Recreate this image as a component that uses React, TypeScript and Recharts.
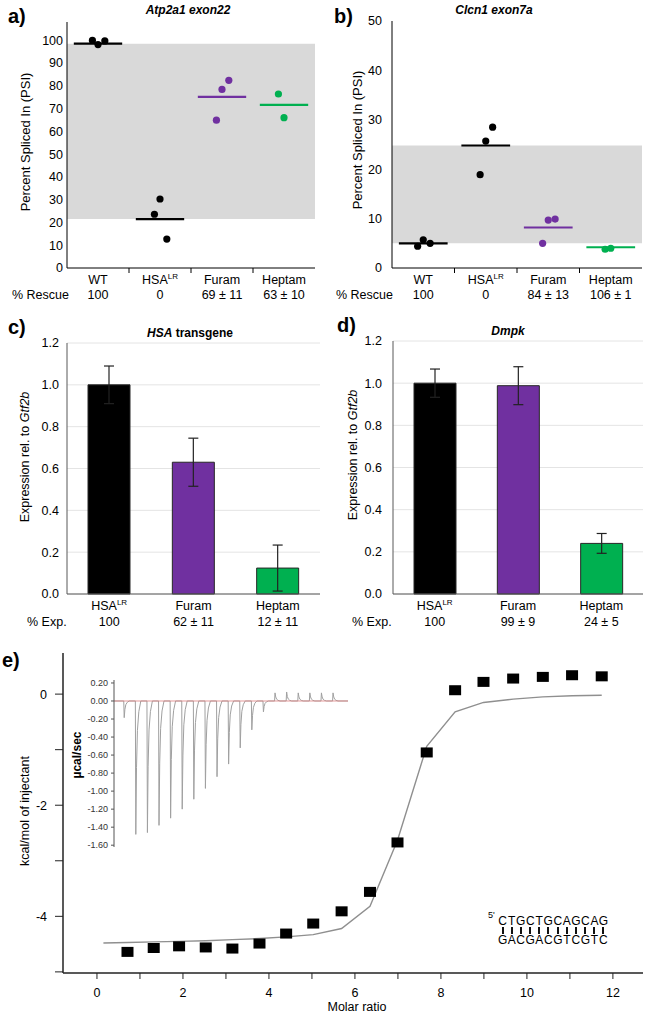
import React from 'react';
import {
  ComposedChart,
  BarChart,
  LineChart,
  Bar,
  Line,
  Scatter,
  Cell,
  XAxis,
  YAxis,
  CartesianGrid,
  ReferenceArea,
  ReferenceLine,
  ErrorBar,
} from 'recharts';

const FONT = '"Liberation Sans", Arial, sans-serif';
const PURPLE = '#7030A0';
const GREEN = '#00B050';
const groupColors = ['#000000', '#000000', PURPLE, GREEN];

// a) / b) splicing, replicate PSI values and group means
const psiGroups = ['WT', 'HSA', 'Furam', 'Heptam'];
const atp2a1Reps = [[99.9, 98.1, 99.7], [23.6, 30.3, 12.7], [64.9, 78.4, 82.4], [76.4, 66.0]];
const atp2a1Means = [98.5, 21.5, 75.1, 71.6];
const atp2a1Rescue = ['100', '0', '69 ± 11', '63 ± 10'];
const atp2a1Ticks = [0, 10, 20, 30, 40, 50, 60, 70, 80, 90, 100];

const clcn1Reps = [[4.4, 5.7, 5.0], [18.9, 25.7, 28.5], [5.0, 9.7, 9.9], [3.8, 4.0]];
const clcn1Means = [5.0, 24.8, 8.2, 4.2];
const clcn1Rescue = ['100', '0', '84 ± 13', '106 ± 1'];
const clcn1Ticks = [0, 10, 20, 30, 40, 50];

// c) / d) expression
const exprGroups = ['HSA', 'Furam', 'Heptam'];
const hsaExpr = [1.0, 0.63, 0.124];
const hsaErr = [0.09, 0.115, 0.11];
const hsaPct = ['100', '62 ± 11', '12 ± 11'];
const dmpkExpr = [1.0, 0.988, 0.24];
const dmpkErr = [0.067, 0.09, 0.047];
const dmpkPct = ['100', '99 ± 9', '24 ± 5'];
const exprTicks = [0, 0.2, 0.4, 0.6, 0.8, 1.0, 1.2];
const exprColors = ['#000000', PURPLE, GREEN];

// e) ITC
const molarRatio = [0.71, 1.32, 1.91, 2.53, 3.15, 3.78, 4.4, 5.03, 5.69, 6.35, 6.99, 7.67, 8.33, 8.99, 9.68, 10.37, 11.05, 11.74];
const heatPerInj = [-4.64, -4.57, -4.54, -4.56, -4.58, -4.49, -4.31, -4.13, -3.91, -3.56, -2.67, -1.05, 0.07, 0.22, 0.28, 0.31, 0.34, 0.32];
const fitRatio = [0.15, 0.71, 1.32, 1.91, 2.53, 3.15, 3.78, 4.4, 5.03, 5.69, 6.35, 6.99, 7.67, 8.33, 8.99, 9.68, 10.37, 11.05, 11.74];
const fitHeat = [-4.48, -4.47, -4.46, -4.45, -4.44, -4.42, -4.4, -4.37, -4.33, -4.22, -3.82, -2.63, -0.94, -0.32, -0.15, -0.09, -0.05, -0.03, -0.02];
const ratioTicks = [0, 1, 2, 3, 4, 5, 6, 7, 8, 9, 10, 11, 12];
const heatTicks = [-5, -4, -3, -2, -1, 0];

// inset: raw injection peaks (µcal/sec)
const injectionPeaks = [-0.185, -1.48, -1.46, -1.38, -1.3, -1.2, -1.09, -0.97, -0.84, -0.7, -0.52, -0.32, -0.12, 0.09, 0.1, 0.09, 0.09, 0.09, 0.09];
const insetMajor = [-1.6, -1.4, -1.2, -1.0, -0.8, -0.6, -0.4, -0.2, 0, 0.2];
const insetMinor = [-1.6, -1.5, -1.4, -1.3, -1.2, -1.1, -1.0, -0.9, -0.8, -0.7, -0.6, -0.5, -0.4, -0.3, -0.2, -0.1, 0, 0.1, 0.2];
const insetTime = [1, 2, 3, 4, 5, 6, 7, 8, 9, 10, 11, 12, 13, 14, 15, 16, 17, 18, 19, 20];

const dnaTop = 'CTGCTGCAGCAG';
const dnaBottom = 'GACGACGTCGTC';

// layout helpers
const slotOffset = [-0.09, 0, 0.11];
const firstInjection = 0.86;
const spikeShape = [[-0.02, 0], [0.02, 1], [0.08, 0.5], [0.16, 0.22], [0.28, 0.08], [0.45, 0]];

const thermogram = [
  { t: 0, v: 0 },
  ...injectionPeaks.flatMap((p, i) =>
    spikeShape.map(([dt, f]) => ({ t: firstInjection + i + dt, v: p * f }))
  ),
  { t: 20.17, v: 0 },
];
const itcPoints = molarRatio.map((x, i) => ({ x, y: heatPerInj[i] }));
const itcFit = fitRatio.map((x, i) => ({ x, y: fitHeat[i] }));

function GroupName({ x, y, name }: any) {
  return (
    <text x={x} y={y} textAnchor="middle" fontSize={12.5} fill="#000" fontFamily={FONT}>
      {name === 'HSA' ? (
        <>
          HSA<tspan fontSize={8} dy={-5}>LR</tspan>
        </>
      ) : (
        name
      )}
    </text>
  );
}

function Txt({ x, y, anchor = 'start', size = 12.5, bold, italic, rotate, children }: any) {
  const tx = anchor === 'middle' ? '-50%' : anchor === 'end' ? '-100%' : '0';
  return (
    <div
      style={{
        position: 'absolute',
        left: x,
        top: y,
        transform: rotate ? 'translate(-50%,-50%) rotate(-90deg)' : `translate(${tx},-50%)`,
        fontSize: size,
        fontWeight: bold ? 700 : 400,
        fontStyle: italic ? 'italic' : 'normal',
        lineHeight: 1,
        whiteSpace: 'nowrap',
        color: '#000',
      }}
    >
      {children}
    </div>
  );
}

function PsiPanel({ left, width, margin, yWidth, tickGap, yMax, yTicks, reps, means, rescue, rowX }: any) {
  const band = [Math.min(means[0], means[1]), Math.max(means[0], means[1])];
  const tick = (props: any) => {
    const { x, y, payload } = props;
    const v = payload.value;
    if (Number.isInteger(v)) return <line x1={x} x2={x} y1={y} y2={y + 5} stroke="#000" />;
    const i = Math.floor(v);
    return (
      <g>
        <GroupName x={x} y={y + 16} name={psiGroups[i]} />
        <text x={x} y={y + 31} textAnchor="middle" fontSize={12.5} fontFamily={FONT} fill="#000">
          {rescue[i]}
        </text>
        {i === 0 && (
          <text x={rowX} y={y + 31} textAnchor="start" fontSize={12.5} fontFamily={FONT} fill="#000">
            % Rescue
          </text>
        )}
      </g>
    );
  };
  return (
    <div style={{ position: 'absolute', left, top: 0 }}>
      <ComposedChart width={width} height={310} margin={margin}>
        <ReferenceArea y1={band[0]} y2={band[1]} fill="#d9d9d9" fillOpacity={1} stroke="none" />
        <XAxis
          type="number"
          dataKey="x"
          domain={[0, 4]}
          ticks={[0.5, 1, 1.5, 2, 2.5, 3, 3.5]}
          interval={0}
          allowDataOverflow
          height={42}
          tickLine={false}
          tickSize={0}
          tickMargin={0}
          axisLine={{ stroke: '#000' }}
          tick={tick}
        />
        <XAxis xAxisId="top" orientation="top" type="number" domain={[0, 4]} mirror height={0} tick={false} tickLine={false} axisLine={{ stroke: '#000' }} />
        <YAxis
          type="number"
          dataKey="y"
          domain={[0, yMax]}
          ticks={yTicks}
          interval={0}
          allowDataOverflow
          width={yWidth}
          tickLine={false}
          tickSize={0}
          tickMargin={tickGap}
          axisLine={{ stroke: '#000' }}
          tick={{ fontSize: 12.5, fill: '#000', fontFamily: FONT }}
        />
        <YAxis yAxisId="right" orientation="right" type="number" domain={[0, yMax]} mirror width={0} tick={false} tickLine={false} axisLine={{ stroke: '#000' }} />
        {means.map((m: number, g: number) => (
          <ReferenceLine
            key={'m' + g}
            segment={[{ x: g + 0.5 - 0.39, y: m }, { x: g + 0.5 + 0.39, y: m }]}
            stroke={groupColors[g]}
            strokeWidth={2.2}
          />
        ))}
        {reps.map((vals: number[], g: number) => (
          <Scatter
            key={'s' + g}
            data={vals.map((v, j) => ({ x: g + 0.5 + slotOffset[j], y: v }))}
            dataKey="y"
            isAnimationActive={false}
            shape={(p: any) => <circle cx={p.cx} cy={p.cy} r={3.6} fill={groupColors[g]} />}
          />
        ))}
      </ComposedChart>
    </div>
  );
}

function ExprPanel({ left, width, margin, yWidth, tickGap, values, errs, pct, rowX }: any) {
  const data = exprGroups.map((name, i) => ({ name, value: values[i], err: errs[i] }));
  const tick = (props: any) => {
    const { x, y, payload } = props;
    const i = exprGroups.indexOf(payload.value);
    return (
      <g>
        <GroupName x={x} y={y + 16} name={payload.value} />
        <text x={x} y={y + 32} textAnchor="middle" fontSize={12.5} fontFamily={FONT} fill="#000">
          {pct[i]}
        </text>
        {i === 0 && (
          <text x={rowX} y={y + 32} textAnchor="start" fontSize={12.5} fontFamily={FONT} fill="#000">
            % Exp.
          </text>
        )}
      </g>
    );
  };
  const frame = '#595959';
  return (
    <div style={{ position: 'absolute', left, top: 320 }}>
      <BarChart width={width} height={316} data={data} margin={margin}>
        <CartesianGrid vertical={false} stroke="#e4e4e4" />
        <XAxis dataKey="name" height={42} tickLine={false} tickSize={0} tickMargin={0} axisLine={{ stroke: frame }} tick={tick} interval={0} />
        <XAxis xAxisId="top" orientation="top" dataKey="name" mirror height={0} tick={false} tickLine={false} axisLine={{ stroke: frame }} />
        <YAxis
          type="number"
          domain={[0, 1.2]}
          ticks={exprTicks}
          interval={0}
          width={yWidth}
          tickLine={false}
          tickSize={0}
          tickMargin={tickGap}
          axisLine={{ stroke: frame }}
          tickFormatter={(v: number) => v.toFixed(1)}
          tick={{ fontSize: 12.5, fill: '#000', fontFamily: FONT }}
        />
        <YAxis yAxisId="right" orientation="right" type="number" domain={[0, 1.2]} mirror width={0} tick={false} tickLine={false} axisLine={{ stroke: frame }} />
        <Bar dataKey="value" barSize={42} stroke="#262626" strokeWidth={1} isAnimationActive={false}>
          {data.map((d, i) => (
            <Cell key={d.name} fill={exprColors[i]} />
          ))}
          <ErrorBar dataKey="err" width={5} stroke="#222" strokeWidth={1.2} direction="y" />
        </Bar>
      </BarChart>
    </div>
  );
}

function ItcPanel() {
  const axisStroke = { stroke: '#222', strokeWidth: 1.5 };
  const tickStyle = { fontSize: 12.5, fill: '#000', fontFamily: FONT };
  return (
    <div style={{ position: 'absolute', left: 0, top: 630 }}>
      <ComposedChart width={649} height={386} margin={{ top: 23, right: 6, left: 0, bottom: 0 }}>
        <XAxis
          type="number"
          dataKey="x"
          domain={[-0.79, 12.7]}
          ticks={ratioTicks}
          interval={0}
          allowDataOverflow
          height={43}
          tickSize={6}
          tickMargin={9}
          axisLine={axisStroke}
          tickLine={{ stroke: '#222' }}
          tickFormatter={(v: number) => (v % 2 === 0 ? String(v) : '')}
          tick={tickStyle}
        />
        <XAxis xAxisId="top" orientation="top" type="number" domain={[-0.79, 12.7]} ticks={ratioTicks} interval={0} allowDataOverflow mirror height={0} tick={false} tickSize={6} tickLine={{ stroke: '#222' }} axisLine={axisStroke} />
        <YAxis
          type="number"
          dataKey="y"
          domain={[-5.02, 0.74]}
          ticks={heatTicks}
          interval={0}
          allowDataOverflow
          width={63}
          tickSize={8}
          tickMargin={8}
          axisLine={axisStroke}
          tickLine={{ stroke: '#222' }}
          tickFormatter={(v: number) => (v % 2 === 0 ? String(v) : '')}
          tick={tickStyle}
        />
        <YAxis yAxisId="right" orientation="right" type="number" domain={[-5.02, 0.74]} ticks={heatTicks} interval={0} allowDataOverflow mirror width={0} tick={false} tickSize={6} tickLine={{ stroke: '#222' }} axisLine={axisStroke} />
        <Line data={itcFit} dataKey="y" type="linear" stroke="#8f8f8f" strokeWidth={1.4} dot={false} isAnimationActive={false} />
        <Scatter
          data={itcPoints}
          dataKey="y"
          isAnimationActive={false}
          shape={(p: any) => <rect x={p.cx - 6} y={p.cy - 5} width={12} height={10} fill="#000" />}
        />
      </ComposedChart>
    </div>
  );
}

function InsetPanel() {
  const frame = { stroke: '#555' };
  return (
    <div style={{ position: 'absolute', left: 40, top: 670 }}>
      <LineChart width={312} height={190} data={thermogram} margin={{ top: 10, right: 4, left: 0, bottom: 13 }}>
        <XAxis type="number" dataKey="t" domain={[0, 20.17]} ticks={insetTime} interval={0} allowDataOverflow mirror height={0} tick={false} tickSize={3} tickLine={frame} axisLine={frame} />
        <XAxis xAxisId="top" orientation="top" type="number" domain={[0, 20.17]} ticks={insetTime} interval={0} allowDataOverflow mirror height={0} tick={false} tickSize={3} tickLine={frame} axisLine={frame} />
        <YAxis
          type="number"
          dataKey="v"
          domain={[-1.62, 0.233]}
          ticks={insetMajor}
          interval={0}
          allowDataOverflow
          width={74}
          tickSize={3}
          tickMargin={3}
          tickLine={frame}
          axisLine={frame}
          tickFormatter={(v: number) => v.toFixed(2)}
          tick={{ fontSize: 9, fill: '#333', fontFamily: FONT }}
        />
        <YAxis yAxisId="right" orientation="right" type="number" domain={[-1.62, 0.233]} ticks={insetMinor} interval={0} allowDataOverflow mirror width={0} tick={false} tickSize={3} tickLine={frame} axisLine={frame} />
        <Line dataKey="v" type="linear" stroke="#a0a0a0" strokeWidth={1} dot={false} isAnimationActive={false} />
        <ReferenceLine y={0} stroke="#e08080" strokeWidth={0.8} />
      </LineChart>
    </div>
  );
}

export default function App() {
  return (
    <div
      style={{
        position: 'absolute',
        left: 0,
        top: 0,
        width: 649,
        height: 1016,
        background: '#fff',
        fontFamily: FONT,
        overflow: 'hidden',
      }}
    >
      <PsiPanel
        left={0}
        width={330}
        margin={{ top: 22, right: 15, left: 0, bottom: 0 }}
        yWidth={67}
        tickGap={4}
        yMax={108}
        yTicks={atp2a1Ticks}
        reps={atp2a1Reps}
        means={atp2a1Means}
        rescue={atp2a1Rescue}
        rowX={12}
      />
      <PsiPanel
        left={320}
        width={329}
        margin={{ top: 21, right: 7, left: 0, bottom: 0 }}
        yWidth={72}
        tickGap={10}
        yMax={50}
        yTicks={clcn1Ticks}
        reps={clcn1Reps}
        means={clcn1Means}
        rescue={clcn1Rescue}
        rowX={16}
      />
      <ExprPanel
        left={0}
        width={330}
        margin={{ top: 23, right: 10, left: 0, bottom: 0 }}
        yWidth={67}
        tickGap={8}
        values={hsaExpr}
        errs={hsaErr}
        pct={hsaPct}
        rowX={27}
      />
      <ExprPanel
        left={320}
        width={329}
        margin={{ top: 21, right: 6, left: 0, bottom: 0 }}
        yWidth={73}
        tickGap={11}
        values={dmpkExpr}
        errs={dmpkErr}
        pct={dmpkPct}
        rowX={32}
      />
      <ItcPanel />
      <InsetPanel />

      {/* panel letters and titles */}
      <Txt x={8} y={16} size={20} bold>a)</Txt>
      <Txt x={334} y={16} size={20} bold>b)</Txt>
      <Txt x={8} y={327} size={20} bold>c)</Txt>
      <Txt x={337} y={325} size={20} bold>d)</Txt>
      <Txt x={2} y={660} size={20} bold>e)</Txt>
      <Txt x={188} y={10} size={12} anchor="middle" bold italic>Atp2a1 exon22</Txt>
      <Txt x={494} y={10} size={12} anchor="middle" bold italic>Clcn1 exon7a</Txt>
      <Txt x={190} y={333} size={12} anchor="middle" bold>
        <i>HSA</i> transgene
      </Txt>
      <Txt x={508} y={331} size={12} anchor="middle" bold italic>Dmpk</Txt>

      {/* axis titles */}
      <Txt x={25} y={142} size={13} rotate>Percent Spliced In (PSI)</Txt>
      <Txt x={357} y={140} size={13} rotate>Percent Spliced In (PSI)</Txt>
      <Txt x={25} y={457} rotate>
        Expression rel. to <i>Gtf2b</i>
      </Txt>
      <Txt x={353} y={455} rotate>
        Expression rel. to <i>Gtf2b</i>
      </Txt>
      <Txt x={25} y={811} rotate>kcal/mol of injectant</Txt>
      <Txt x={357} y={1007} anchor="middle">Molar ratio</Txt>
      <Txt x={77} y={755} size={12} bold rotate>µcal/sec</Txt>

      {/* duplex annotation */}
      <div style={{ position: 'absolute', left: 488, top: 911, fontSize: 9, lineHeight: 1 }}>5'</div>
      <div style={{ position: 'absolute', left: 498, top: 915, display: 'flex', gap: 0.3, fontSize: 12 }}>
        {dnaTop.split('').map((c, i) => (
          <div key={i} style={{ display: 'flex', flexDirection: 'column', alignItems: 'center' }}>
            <span style={{ lineHeight: '12px' }}>{c}</span>
            <span style={{ width: 2, height: 7, background: '#111' }} />
            <span style={{ lineHeight: '12px' }}>{dnaBottom[i]}</span>
          </div>
        ))}
      </div>
    </div>
  );
}
